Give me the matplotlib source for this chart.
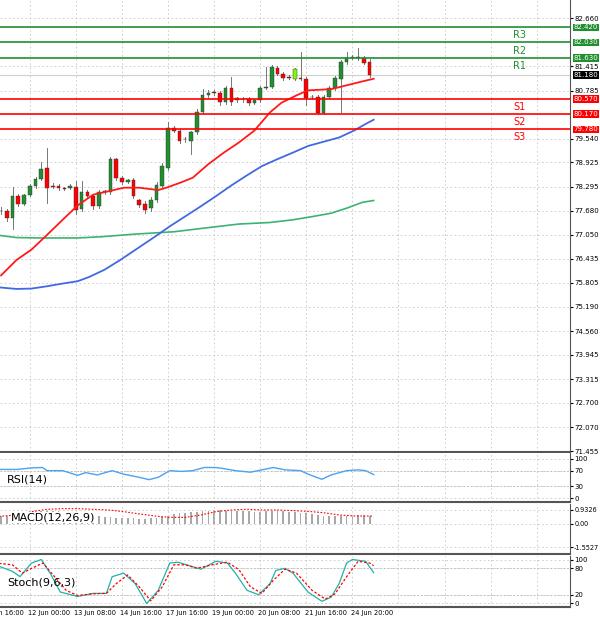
import numpy as np
import matplotlib
matplotlib.use("Agg")
import matplotlib.pyplot as plt
from matplotlib.patches import Rectangle

# ---- data ----
opens = [77.68, 77.67, 77.48, 78.05, 77.86, 78.09, 78.31, 78.50, 78.79, 78.31,
         78.31, 78.25, 78.27, 78.29, 77.72, 78.15, 78.05, 77.79, 78.15, 78.15,
         79.02, 78.53, 78.41, 78.47, 77.94, 77.86, 77.74, 77.96, 78.31, 78.79,
         79.81, 79.75, 79.53, 79.48, 79.70, 80.24, 80.66, 80.73, 80.73, 80.48,
         80.85, 80.59, 80.57, 80.57, 80.47, 80.53, 80.85, 80.88, 81.38, 81.22,
         81.13, 81.09, 81.10, 81.09, 80.62, 80.63, 80.21, 80.63, 80.85, 81.09,
         81.53, 81.65, 81.64, 81.63, 81.53]
closes = [77.66, 77.48, 78.05, 77.86, 78.09, 78.31, 78.50, 78.76, 78.27, 78.30,
          78.27, 78.24, 78.31, 77.70, 78.15, 78.05, 77.79, 78.15, 78.18, 79.02,
          78.53, 78.41, 78.47, 78.05, 77.83, 77.70, 77.96, 78.35, 78.83, 79.81,
          79.75, 79.48, 79.52, 79.70, 80.24, 80.66, 80.73, 80.72, 80.48, 80.85,
          80.48, 80.53, 80.56, 80.47, 80.53, 80.85, 80.88, 81.40, 81.22, 81.11,
          81.12, 81.35, 81.09, 80.59, 80.61, 80.21, 80.63, 80.85, 81.11, 81.53,
          81.63, 81.64, 81.63, 81.51, 81.18]
highs = [77.78, 77.72, 78.30, 78.10, 78.12, 78.36, 78.55, 78.94, 79.30, 78.40,
         78.36, 78.30, 78.36, 78.44, 78.44, 78.20, 78.10, 78.22, 78.22, 79.06,
         79.05, 78.58, 78.50, 78.52, 77.99, 77.92, 78.02, 78.42, 78.90, 79.96,
         79.86, 79.80, 79.58, 79.75, 80.30, 80.83, 80.80, 80.80, 80.78, 80.90,
         81.14, 80.62, 80.62, 80.62, 80.56, 80.90, 81.40, 81.45, 81.42, 81.26,
         81.18, 81.38, 81.77, 81.13, 80.66, 80.68, 80.68, 80.90, 81.16, 81.58,
         81.77, 81.70, 81.88, 81.68, 81.60]
lows = [77.60, 77.40, 77.20, 77.80, 77.82, 78.05, 78.27, 78.46, 77.87, 78.25,
        78.22, 78.20, 78.24, 77.60, 77.66, 78.00, 77.72, 77.74, 78.12, 78.10,
        78.48, 78.36, 78.38, 78.00, 77.78, 77.62, 77.68, 77.90, 78.28, 78.74,
        79.70, 79.44, 79.46, 79.14, 79.65, 80.20, 80.62, 80.68, 80.40, 80.44,
        80.40, 80.48, 80.50, 80.42, 80.44, 80.50, 80.82, 80.84, 81.18, 81.06,
        81.08, 81.05, 81.05, 80.40, 80.56, 80.18, 80.18, 80.58, 80.80, 80.24,
        81.48, 81.60, 81.58, 81.46, 81.14]
light = [51]  # light green doji

ma_red_x = [0, 2.7, 5.3, 8, 10.7, 13.3, 16, 18.7, 21.3, 24, 27.3, 28.7, 31.3,
            33.3, 36, 38.7, 41.3, 44, 46.7, 48.7, 51.3, 53.3, 57.3, 60, 62.7, 64.7]
ma_red = [76.00, 76.40, 76.67, 77.05, 77.44, 77.81, 78.09, 78.18, 78.27, 78.27,
          78.21, 78.27, 78.41, 78.53, 78.88, 79.18, 79.44, 79.75, 80.22, 80.47,
          80.66, 80.79, 80.82, 80.92, 81.02, 81.09]
ma_blue_x = [-1, 2.7, 5.3, 8, 10.7, 13.3, 15.3, 18, 20.7, 23.3, 26.7, 29.3, 32,
             34.7, 37.3, 40, 42.7, 45.3, 48, 50.7, 53.3, 56, 58.7, 61.3, 63.3, 64.7]
ma_blue = [75.70, 75.65, 75.66, 75.72, 75.79, 75.85, 75.96, 76.15, 76.40, 76.66,
           77.00, 77.27, 77.53, 77.79, 78.05, 78.33, 78.59, 78.83, 79.01, 79.18,
           79.35, 79.46, 79.57, 79.75, 79.92, 80.03]
ma_green_x = [-1, 2.7, 6.7, 13.3, 17.3, 23.3, 30, 36.7, 41.3, 46.7, 50.7, 54.7,
              57.3, 60, 62.7, 64.7]
ma_green = [77.05, 76.98, 76.97, 76.97, 77.00, 77.07, 77.13, 77.25, 77.33, 77.37,
            77.44, 77.54, 77.61, 77.74, 77.89, 77.94]

resist = [("R1", 81.63), ("R2", 82.03), ("R3", 82.42)]
support = [("S1", 80.57), ("S2", 80.17), ("S3", 79.78)]
last_price = 81.18
price_ticks = [82.660, 81.415, 80.785, 79.540, 78.925, 78.295, 77.680, 77.050,
               76.435, 75.805, 75.190, 74.560, 73.945, 73.315, 72.700, 72.070, 71.455]

rsi_x = [-1, 2.7, 5.3, 7.2, 8, 10.7, 13.3, 14.7, 16.7, 19.3, 21.3, 24, 25.7, 27.3,
         29.3, 31.3, 33.3, 35.3, 37.3, 38.7, 40.7, 43.3, 45.3, 47.3, 49.3, 52,
         53.3, 55.7, 57.3, 60, 62, 63.3, 64.7]
rsi = [73, 73, 77, 78, 70, 70, 58, 65, 59, 70, 61, 53, 47, 53, 70, 68, 70, 78, 78,
       75, 70, 66, 72, 78, 72, 70, 61, 48, 59, 70, 72, 70, 60]

macd_hist = [0.50, 0.55, 0.62, 0.70, 0.75, 0.80, 0.85, 0.88, 0.88, 0.86,
             0.84, 0.82, 0.78, 0.72, 0.66, 0.60, 0.55, 0.50, 0.46, 0.44,
             0.42, 0.40, 0.40, 0.38, 0.36, 0.36, 0.38, 0.42, 0.48, 0.56,
             0.64, 0.70, 0.74, 0.78, 0.82, 0.86, 0.88, 0.90, 0.90, 0.88,
             0.88, 0.86, 0.85, 0.84, 0.82, 0.82, 0.84, 0.86, 0.86, 0.84,
             0.80, 0.78, 0.75, 0.70, 0.64, 0.60, 0.55, 0.52, 0.52, 0.54,
             0.56, 0.58, 0.58, 0.57, 0.55]
sig_x = [-1, 2.7, 5.3, 8, 10.7, 13.3, 16, 18.7, 21.3, 24, 26.7, 29.3, 32, 34.7,
         37.3, 40, 42.7, 45.3, 48, 50.7, 53.3, 56, 58.7, 61.3, 64.7]
macd_sig = [0.49, 0.60, 0.82, 0.98, 1.02, 1.02, 0.98, 0.93, 0.82, 0.67, 0.53,
            0.44, 0.44, 0.60, 0.82, 0.93, 0.98, 0.93, 0.93, 0.89, 0.84, 0.75,
            0.60, 0.53, 0.53]

st_x = [-1, 2, 3.3, 5.3, 7, 8.7, 10.3, 13.3, 16, 18.3, 19.3, 21.3, 23.3, 25.3,
        27.3, 29.3, 30.7, 32.7, 34.7, 37.3, 39.3, 40.7, 42.7, 44.7, 46.7, 47.7,
        49.3, 50.7, 53.3, 55.7, 57.3, 58.7, 60, 61, 63.3, 64.7]
st_k = [88, 73, 61, 92, 100, 65, 26, 16, 23, 23, 61, 69, 45, 0, 30, 92, 94, 86,
        78, 96, 92, 69, 30, 20, 45, 75, 80, 69, 26, 5, 14, 45, 92, 100, 96, 70]
sd_x = [-1, 2, 3.7, 5.3, 7.3, 9.3, 11.3, 13.3, 16, 18.3, 20, 22, 24, 26, 28, 30,
        32, 34, 36.7, 39.3, 41.3, 43.3, 45.3, 47.3, 49.3, 51.3, 54, 56.3, 58,
        60, 62, 64, 64.7]
st_d = [92, 88, 69, 80, 92, 61, 30, 18, 22, 23, 45, 65, 38, 6, 38, 88, 88, 80, 88,
        94, 77, 38, 23, 53, 78, 69, 30, 10, 22, 61, 96, 92, 86]

tick_idx = [-3, 5, 13, 21, 29, 37, 45, 53, 61]
tick_lbl = ["11 Jun 16:00", "12 Jun 00:00", "13 Jun 08:00", "14 Jun 16:00",
            "17 Jun 16:00", "19 Jun 00:00", "20 Jun 08:00", "21 Jun 16:00",
            "24 Jun 20:00"]

# ---- layout ----
W, H = 600, 622
fig = plt.figure(figsize=(W / 100, H / 100), dpi=100)
XL = (-1 / 5.75, 569 / 5.75 - 1 / 5.75)
GREEN, RED = "#1f8f2f", "#ff0000"
SMALL = 5


def panel(top, bottom):
    ax = fig.add_axes([0, 1 - bottom / H, 570 / W, (bottom - top) / H])
    ax.set_xlim(*XL)
    ax.set_xticks(np.arange(5, 100, 8))
    ax.tick_params(axis="x", length=0, labelbottom=False)
    ax.grid(True, color="#c8c8c8", ls=(0, (2, 3)), lw=0.6)
    ax.yaxis.tick_right()
    ax.tick_params(axis="y", labelsize=SMALL, length=2, pad=1)
    for s in ("left", "top"):
        ax.spines[s].set_visible(False)
    ax.spines["right"].set_color("#555555")
    ax.spines["bottom"].set_color("#555555")
    ax.spines["bottom"].set_linewidth(1.5)
    return ax


ax = panel(-2, 452)
ymin = 82.66 - (452 - 20) / 38.47
ymax = 82.66 + 20 / 38.47
ax.set_ylim(ymin, ymax)
ax.set_yticks(price_ticks)
ax.set_yticklabels([f"{v:.3f}" for v in price_ticks])

for i, (o, c, h, l) in enumerate(zip(opens, closes, highs, lows)):
    col = "#7cfc00" if i in light else (GREEN if c >= o else RED)
    ax.plot([i, i], [l, h], color="#777777", lw=0.7, zorder=2)
    ax.add_patch(Rectangle((i - 0.32, min(o, c)), 0.64, max(abs(c - o), 0.015),
                           facecolor=col, edgecolor="#333333", lw=0.3, zorder=3))

ax.plot(ma_green_x, ma_green, color="#3cb371", lw=1.2, zorder=2)
ax.plot(ma_blue_x, ma_blue, color="#4169e1", lw=1.3, zorder=2)
ax.plot(ma_red_x, ma_red, color="#ff1a1a", lw=1.3, zorder=4)
ax.axhline(last_price, color="#d0d0d0", lw=0.8, zorder=1)

for name, v in resist:
    ax.axhline(v, color=GREEN, lw=1.2, zorder=5)
    ax.text(90, v - 0.08, name, color=GREEN, fontsize=7, va="top", ha="center")
for name, v in support:
    ax.axhline(v, color=RED, lw=1.2, zorder=5)
    ax.text(90, v - 0.08, name, color=RED, fontsize=7, va="top", ha="center")

box = [(v, GREEN) for _, v in resist] + [(v, RED) for _, v in support] + [(last_price, "black")]
for v, col in box:
    ax.text(1.006, v, f"{v:.3f}", transform=ax.get_yaxis_transform(), fontsize=SMALL,
            color="white", va="center", ha="left", zorder=6,
            bbox=dict(boxstyle="square,pad=0.12", fc=col, ec="none"))

# RSI
ax2 = panel(453, 502)
ax2.set_ylim(-10, 115)
ax2.set_yticks([0, 30, 70, 100])
ax2.axhline(70, color="#bbbbbb", ls=(0, (2, 2)), lw=0.6)
ax2.axhline(30, color="#bbbbbb", ls=(0, (2, 2)), lw=0.6)
ax2.plot(rsi_x, rsi, color="#4aa3f0", lw=1)
ax2.text(1, 40, "RSI(14)", fontsize=8)

# MACD
ax3 = panel(504, 554)
ax3.set_ylim(-2.0, 1.33)
ax3.set_yticks([-1.5527, 0, 0.9326])
ax3.set_yticklabels(["-1.5527", "0.00", "0.9326"])
ax3.tick_params(axis="y", labelsize=4.7)
ax3.bar(range(len(macd_hist)), macd_hist, width=0.3, color="#a8a8a8")
ax3.plot(sig_x, macd_sig, color=RED, lw=0.8, ls=(0, (1.5, 1.5)))
ax3.text(1.8, 0.45, "MACD(12,26,9)", fontsize=8, va="center",
         bbox=dict(fc="white", ec="none", pad=0.5))

# Stoch
ax4 = panel(556, 607)
ax4.set_ylim(-8, 108)
ax4.set_yticks([0, 20, 80, 100])
ax4.axhline(80, color="#bbbbbb", ls=(0, (2, 2)), lw=0.6)
ax4.axhline(20, color="#bbbbbb", ls=(0, (2, 2)), lw=0.6)
ax4.plot(st_x, st_k, color="#20b2aa", lw=0.9)
ax4.plot(sd_x, st_d, color=RED, lw=0.9, ls=(0, (2, 1.5)))
ax4.text(1, 48, "Stoch(9,6,3)", fontsize=8, va="center")
for i, t in zip(tick_idx, tick_lbl):
    ax4.text(i - 0.3, -14, t, fontsize=4.8, ha="left", va="top", clip_on=False)

fig.savefig("out.png", dpi=100)
